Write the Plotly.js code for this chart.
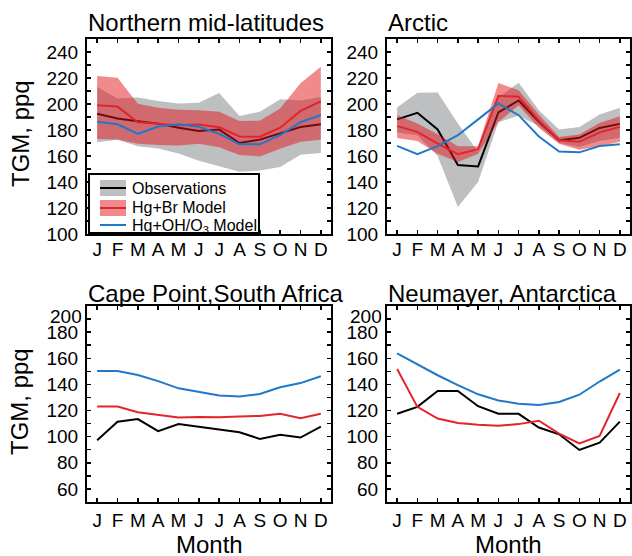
<!DOCTYPE html>
<html>
<head>
<meta charset="utf-8">
<script src="https://cdn.plot.ly/plotly-3.0.1.min.js"></script>
<style>html,body{margin:0;padding:0;background:#fff;}#chart{width:632px;height:556px;}</style>
</head>
<body>
<div id="chart"></div>
<script>
// ---------- data ----------
const months = [1, 2, 3, 4, 5, 6, 7, 8, 9, 10, 11, 12];
const monthLabels = ['J', 'F', 'M', 'A', 'M', 'J', 'J', 'A', 'S', 'O', 'N', 'D'];

// Northern mid-latitudes
const nmlObs   = [192.5, 188.8, 186.7, 184.9, 181.8, 179.2, 180.3, 170.0, 172.6, 177.7, 182.3, 184.4];
const nmlObsHi = [213.0, 204.3, 205.0, 202.3, 200.3, 201.0, 208.4, 190.7, 194.0, 203.7, 202.6, 205.4];
const nmlObsLo = [170.5, 172.5, 167.5, 165.8, 162.0, 156.4, 152.0, 147.8, 148.8, 151.6, 161.0, 162.3];
const nmlBr    = [199.0, 198.0, 186.0, 185.0, 183.6, 184.3, 182.2, 175.0, 174.8, 181.8, 194.7, 202.0];
const nmlBrHi  = [221.6, 220.2, 200.2, 197.1, 195.5, 195.2, 194.0, 187.0, 187.2, 196.6, 216.0, 228.7];
const nmlBrLo  = [173.0, 172.7, 169.5, 168.5, 168.0, 169.5, 166.8, 160.8, 159.7, 165.5, 171.0, 172.5];
const nmlOH    = [186.3, 184.4, 177.0, 182.7, 184.5, 182.5, 177.0, 169.0, 169.0, 176.0, 186.0, 191.5];

// Arctic
const arcObs   = [188.2, 193.2, 180.4, 153.0, 152.0, 193.5, 202.7, 186.3, 172.2, 174.0, 181.6, 184.7];
const arcObsHi = [197.3, 208.6, 208.8, 185.0, 163.0, 205.0, 216.4, 195.2, 180.3, 182.3, 192.0, 197.2];
const arcObsLo = [178.0, 176.0, 160.0, 120.8, 140.0, 186.0, 191.0, 183.0, 170.0, 167.0, 171.5, 174.0];
const arcBr    = [183.0, 178.6, 169.6, 161.4, 165.3, 206.3, 205.5, 187.3, 172.1, 170.9, 178.2, 182.4];
const arcBrHi  = [191.3, 185.0, 176.7, 167.5, 167.5, 216.2, 210.5, 192.0, 174.6, 176.5, 185.4, 190.5];
const arcBrLo  = [173.9, 171.5, 161.8, 155.4, 161.8, 186.2, 199.0, 181.8, 169.5, 164.9, 167.5, 171.0];
const arcOH    = [167.8, 161.4, 167.6, 176.0, 188.2, 200.4, 191.4, 175.0, 163.4, 162.8, 167.7, 169.1];

// Cape Point, South Africa
const capeObs = [97.3, 111.5, 113.5, 104.2, 109.7, 107.7, 105.6, 103.3, 98.3, 101.5, 99.3, 107.7];
const capeBr  = [123.1, 123.0, 118.7, 116.7, 114.6, 115.1, 114.9, 115.4, 115.9, 117.5, 114.2, 117.5];
const capeOH  = [150.2, 150.2, 147.2, 142.5, 137.0, 134.3, 131.6, 130.8, 132.7, 137.8, 141.0, 146.2];

// Neumayer, Antarctica
const neuObs = [117.5, 122.8, 134.9, 134.9, 123.3, 117.5, 117.5, 107.0, 101.8, 89.8, 95.4, 111.5];
const neuBr  = [151.8, 122.8, 113.9, 110.5, 109.2, 108.3, 109.6, 112.2, 102.3, 94.9, 100.5, 133.4];
const neuOH  = [163.8, 155.2, 147.0, 139.4, 132.4, 127.7, 125.2, 124.3, 126.6, 132.1, 142.2, 151.3];

// tick labels
const topTickVals = [100, 120, 140, 160, 180, 200, 220, 240];
const topTickText = ['100', '120', '140', '160', '180', '200', '220', '240'];
const botTickVals = [60, 80, 100, 120, 140, 160, 180];
const botTickText = ['60', '80', '100', '120', '140', '160', '180'];
const botTopLabel = '200';

const panelTitles = ['Northern mid-latitudes', 'Arctic', 'Cape Point,South Africa', 'Neumayer, Antarctica'];
const seriesNames = ['Observations', 'Hg+Br Model', 'Hg+OH/O<sub>3</sub> Model'];

// ---------- styles ----------
const FONT = 'Liberation Sans, Arial, Helvetica, sans-serif';
const cGrayBand = '#bebfc1';
const cRedBand = 'rgba(226, 22, 28, 0.5)';
const cBlack = '#000000';
const cRed = '#e3242b';
const cBlue = '#1f78c8';

function band(hi, lo, xa, ya, color) {
  return {
    x: months.concat(months.slice().reverse()),
    y: hi.concat(lo.slice().reverse()),
    xaxis: xa, yaxis: ya, type: 'scatter', mode: 'lines',
    fill: 'toself', fillcolor: color, line: {width: 0, color: color},
    hoverinfo: 'skip', showlegend: false
  };
}
function line(y, xa, ya, color, name) {
  return {x: months, y: y, xaxis: xa, yaxis: ya, type: 'scatter', mode: 'lines', name: name,
          line: {color: color, width: 2}, showlegend: false};
}

const traces = [
  band(nmlObsHi, nmlObsLo, 'x', 'y', cGrayBand),
  line(nmlObs, 'x', 'y', cBlack, seriesNames[0]),
  band(nmlBrHi, nmlBrLo, 'x', 'y', cRedBand),
  line(nmlBr, 'x', 'y', cRed, seriesNames[1]),
  line(nmlOH, 'x', 'y', cBlue, seriesNames[2]),

  band(arcObsHi, arcObsLo, 'x2', 'y2', cGrayBand),
  line(arcObs, 'x2', 'y2', cBlack, seriesNames[0]),
  band(arcBrHi, arcBrLo, 'x2', 'y2', cRedBand),
  line(arcBr, 'x2', 'y2', cRed, seriesNames[1]),
  line(arcOH, 'x2', 'y2', cBlue, seriesNames[2]),

  line(capeObs, 'x3', 'y3', cBlack, seriesNames[0]),
  line(capeBr, 'x3', 'y3', cRed, seriesNames[1]),
  line(capeOH, 'x3', 'y3', cBlue, seriesNames[2]),

  line(neuObs, 'x4', 'y4', cBlack, seriesNames[0]),
  line(neuBr, 'x4', 'y4', cRed, seriesNames[1]),
  line(neuOH, 'x4', 'y4', cBlue, seriesNames[2])
];

const W = 632, H = 556;
const px = v => v / W, py = v => 1 - v / H;   // pixel -> paper helpers (layout only)
const colL = [px(87), px(331)], colR = [px(387), px(630)];
const rowT = [py(234), py(39)], rowB = [py(502), py(306)];

function xax(domain, anchor, standoff) {
  return {domain: domain, anchor: anchor, range: [0.5, 12.5], tickmode: 'array',
    tickvals: months, ticktext: monthLabels, ticks: 'inside', ticklen: 4, tickwidth: 1.5,
    tickcolor: '#000', mirror: 'ticks', showline: true, linecolor: '#000', linewidth: 2,
    showgrid: false, zeroline: false, ticklabelstandoff: standoff,
    tickfont: {family: FONT, size: 19, color: '#000'}, fixedrange: true};
}
function yax(domain, anchor, range, vals, text) {
  return {domain: domain, anchor: anchor, range: range, tickmode: 'array',
    tickvals: vals, ticktext: text, ticks: 'inside', ticklen: 4, tickwidth: 1.5,
    tickcolor: '#000', mirror: 'ticks', showline: true, linecolor: '#000', linewidth: 2,
    minor: {tickmode: 'linear', tick0: 0, dtick: 10, ticks: 'inside', ticklen: 4,
            tickwidth: 1.5, tickcolor: '#000', showgrid: false},
    showgrid: false, zeroline: false, ticklabelstandoff: 3,
    tickfont: {family: FONT, size: 19, color: '#000'}, fixedrange: true};
}

const titleFont = {family: FONT, size: 24, color: '#000'};
const annotations = [
  {text: panelTitles[0], x: px(86), y: py(23), xanchor: 'left', yanchor: 'middle'},
  {text: panelTitles[1], x: px(386), y: py(23), xanchor: 'left', yanchor: 'middle'},
  {text: panelTitles[2], x: px(86), y: py(293), xanchor: 'left', yanchor: 'middle'},
  {text: panelTitles[3], x: px(386), y: py(293), xanchor: 'left', yanchor: 'middle'},
  {text: 'TGM, ppq', x: px(20), y: py(134), xanchor: 'center', yanchor: 'middle', textangle: -90},
  {text: 'TGM, ppq', x: px(20), y: py(402), xanchor: 'center', yanchor: 'middle', textangle: -90},
  {text: 'Month', x: (colL[0] + colL[1]) / 2, y: 0, xanchor: 'center', yanchor: 'bottom',
   borderpad: 0, height: 22},
  {text: 'Month', x: (colR[0] + colR[1]) / 2, y: 0, xanchor: 'center', yanchor: 'bottom',
   borderpad: 0, height: 22}
].map(a => Object.assign({xref: 'paper', yref: 'paper', showarrow: false, font: titleFont}, a));

// shifted "200" tick labels of the lower panels (drawn just below the top edge, as in the original)
['x3', 'x4'].forEach((xa, i) => {
  annotations.push({text: botTopLabel, xref: xa + ' domain', yref: 'y' + (i + 3), x: 0, y: 200,
    xanchor: 'right', yanchor: 'middle', yshift: -10, xshift: -4, height: 14, borderpad: 0,
    showarrow: false, font: {family: FONT, size: 19, color: '#000'}});
});

// legend (drawn as a boxed key inside the first panel)
const legendFont = {family: FONT, size: 16, color: '#000'};
const legendRows = [188, 207, 226];
seriesNames.forEach((name, i) => {
  annotations.push({text: name, xref: 'paper', yref: 'paper', x: px(130), y: py(legendRows[i]),
    xanchor: 'left', yanchor: 'middle', showarrow: false, font: legendFont});
});
const shapes = [
  {type: 'rect', xref: 'paper', yref: 'paper', x0: px(89), x1: px(259), y0: py(233), y1: py(174),
   line: {color: '#000', width: 2}, fillcolor: '#fff', layer: 'above'},
  {type: 'rect', xref: 'paper', yref: 'paper', x0: px(100), x1: px(126), y0: py(196), y1: py(180),
   line: {width: 0}, fillcolor: cGrayBand, layer: 'above'},
  {type: 'line', xref: 'paper', yref: 'paper', x0: px(100), x1: px(126), y0: py(188), y1: py(188),
   line: {color: cBlack, width: 2}, layer: 'above'},
  {type: 'rect', xref: 'paper', yref: 'paper', x0: px(100), x1: px(126), y0: py(216), y1: py(200),
   line: {width: 0}, fillcolor: cRedBand, layer: 'above'},
  {type: 'line', xref: 'paper', yref: 'paper', x0: px(100), x1: px(126), y0: py(208), y1: py(208),
   line: {color: cRed, width: 2}, layer: 'above'},
  {type: 'line', xref: 'paper', yref: 'paper', x0: px(100), x1: px(126), y0: py(225), y1: py(225),
   line: {color: cBlue, width: 2}, layer: 'above'}
];

const layout = {
  width: W, height: H,
  margin: {l: 0, r: 0, t: 0, b: 0},
  paper_bgcolor: '#fff', plot_bgcolor: '#fff',
  font: {family: FONT, color: '#000'},
  showlegend: false,
  xaxis: xax(colL, 'y', -3), yaxis: yax(rowT, 'x', [100, 250], topTickVals, topTickText),
  xaxis2: xax(colR, 'y2', -3), yaxis2: yax(rowT, 'x2', [100, 250], topTickVals, topTickText),
  xaxis3: xax(colL, 'y3', 0), yaxis3: yax(rowB, 'x3', [50, 200], botTickVals, botTickText),
  xaxis4: xax(colR, 'y4', 0), yaxis4: yax(rowB, 'x4', [50, 200], botTickVals, botTickText),
  annotations: annotations,
  shapes: shapes
};

Plotly.newPlot('chart', traces, layout, {displayModeBar: false, staticPlot: true});
</script>
</body>
</html>
